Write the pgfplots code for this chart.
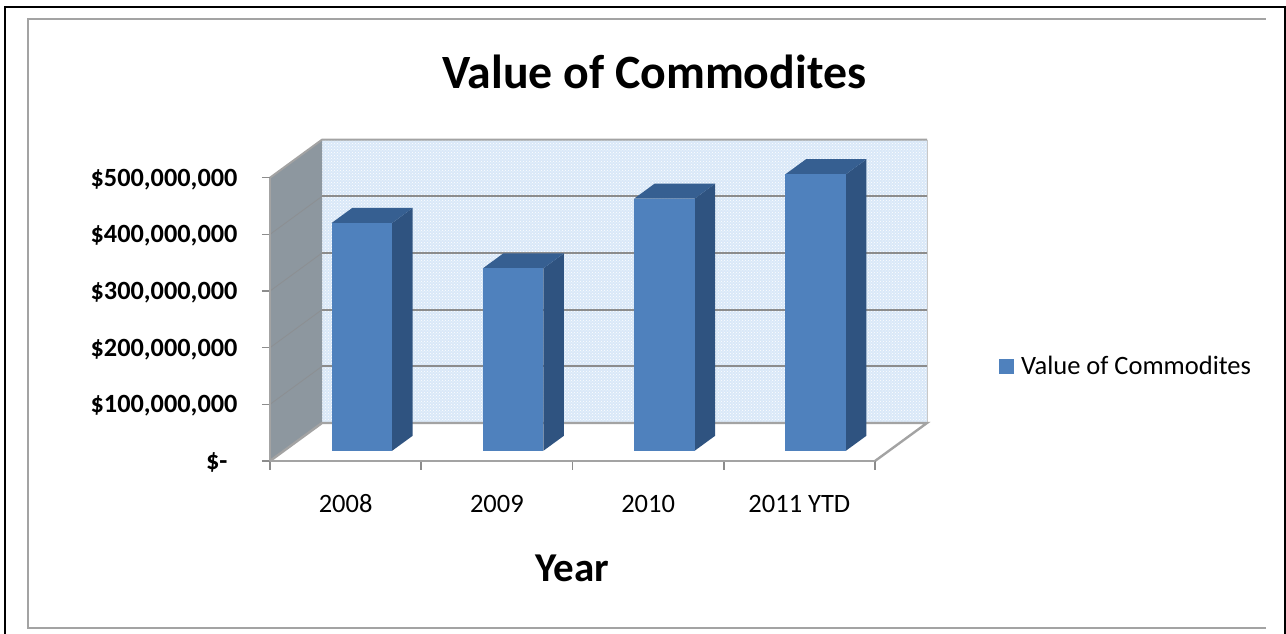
\documentclass[border=0pt]{standalone}
\usepackage{pgfplots}
\pgfplotsset{compat=1.18}
\usepackage{fontspec}
\setmainfont{Carlito}
\usetikzlibrary{patterns}
\definecolor{barfront}{HTML}{4F81BD}
\definecolor{barside}{HTML}{2F5380}
\definecolor{bartop}{HTML}{365F91}
\definecolor{wallback}{HTML}{D9E8F8}
\definecolor{wallleft}{HTML}{8D979F}
\definecolor{gridc}{HTML}{8C8C8C}
\definecolor{edgec}{HTML}{A3A3A3}
\begin{document}
\begin{tikzpicture}
\path[use as bounding box] (0pt,0pt) rectangle (1286pt,634pt);
\draw[black,line width=2pt] (5pt,0pt) -- (5pt,627pt) -- (1285pt,627pt) -- (1285pt,0pt);
\draw[edgec,line width=2pt] (1266pt,6pt) -- (28pt,6pt) -- (28pt,614.5pt) -- (1266pt,614.5pt);

% oblique box: x = category, y = depth, z = value in millions
\begin{axis}[
  at={(270pt,173pt)}, anchor=origin,
  x={(151.25pt,0pt)}, y={(52pt,38pt)}, z={(0pt,0.5666pt)},
  xmin=0, xmax=4, ymin=0, ymax=1, zmin=0, zmax=500,
  hide axis, clip=false,
]
\addplot3[fill=wallback,draw=none] coordinates {(0,1,0) (4,1,0) (4,1,500) (0,1,500)} --cycle;
\addplot3[pattern=crosshatch dots,pattern color=white,draw=none] coordinates {(0,1,0) (4,1,0) (4,1,500) (0,1,500)} --cycle;
\addplot3[fill=wallleft,draw=none] coordinates {(0,0,0) (0,1,0) (0,1,500) (0,0,500)} --cycle;
\pgfplotsinvokeforeach{100,200,300,400}{
  \addplot3[gridc,line width=2pt] coordinates {(0,1,#1) (4,1,#1)};
  \addplot3[gridc!70!wallleft,line width=0.8pt] coordinates {(0,0,#1) (0,1,#1)};
}
\addplot3[edgec,line width=2pt] coordinates {(0,0,500) (0,1,500) (4,1,500)};
\addplot3[edgec!60,line width=0.8pt] coordinates {(4,1,500) (4,1,0)};
\addplot3[edgec,line width=2.4pt] coordinates {(0,0,0) (0,1,0) (4,1,0) (4,0,0)};

% 2008
\addplot3[fill=barside,draw=none] coordinates {(0.715,0.27,0) (0.715,0.665,0) (0.715,0.665,402) (0.715,0.27,402)} --cycle;
\addplot3[fill=bartop,draw=none] coordinates {(0.315,0.27,402) (0.715,0.27,402) (0.715,0.665,402) (0.315,0.665,402)} --cycle;
\addplot3[fill=barfront,draw=none] coordinates {(0.315,0.27,0) (0.715,0.27,0) (0.715,0.27,402) (0.315,0.27,402)} --cycle;
% 2009
\addplot3[fill=barside,draw=none] coordinates {(1.715,0.27,0) (1.715,0.665,0) (1.715,0.665,322) (1.715,0.27,322)} --cycle;
\addplot3[fill=bartop,draw=none] coordinates {(1.315,0.27,322) (1.715,0.27,322) (1.715,0.665,322) (1.315,0.665,322)} --cycle;
\addplot3[fill=barfront,draw=none] coordinates {(1.315,0.27,0) (1.715,0.27,0) (1.715,0.27,322) (1.315,0.27,322)} --cycle;
% 2010
\addplot3[fill=barside,draw=none] coordinates {(2.715,0.27,0) (2.715,0.665,0) (2.715,0.665,445) (2.715,0.27,445)} --cycle;
\addplot3[fill=bartop,draw=none] coordinates {(2.315,0.27,445) (2.715,0.27,445) (2.715,0.665,445) (2.315,0.665,445)} --cycle;
\addplot3[fill=barfront,draw=none] coordinates {(2.315,0.27,0) (2.715,0.27,0) (2.715,0.27,445) (2.315,0.27,445)} --cycle;
% 2011 YTD
\addplot3[fill=barside,draw=none] coordinates {(3.715,0.27,0) (3.715,0.665,0) (3.715,0.665,488) (3.715,0.27,488)} --cycle;
\addplot3[fill=bartop,draw=none] coordinates {(3.315,0.27,488) (3.715,0.27,488) (3.715,0.665,488) (3.315,0.665,488)} --cycle;
\addplot3[fill=barfront,draw=none] coordinates {(3.315,0.27,0) (3.715,0.27,0) (3.715,0.27,488) (3.315,0.27,488)} --cycle;
\end{axis}

% front plane: ticks, labels, titles, legend
\begin{axis}[
  at={(270pt,173pt)}, anchor=south west,
  scale only axis, width=605pt, height=283.3pt,
  xmin=0, xmax=4, ymin=0, ymax=500,
  axis x line=bottom, axis y line=left,
  axis line style={-,edgec,line width=2.6pt},
  xtick={0.5,1.5,2.5,3.5},
  xticklabels={2008,2009,2010,2011 YTD},
  minor xtick={0,1,2,3,4},
  ytick={0,100,200,300,400,500},
  yticklabels={\$-\hspace*{10pt},{\$100,000,000},{\$200,000,000},{\$300,000,000},{\$400,000,000},{\$500,000,000}},
  major x tick style={draw=none},
  minor x tick style={gridc,line width=1.6pt},
  y tick style={gridc,line width=1.6pt},
  tick align=outside,
  minor tick length=9pt, major tick length=8pt,
  xticklabel style={font=\fontsize{26.5}{31}\selectfont, anchor=base, yshift=-44pt},
  yticklabel style={font=\bfseries\fontsize{26.3}{31}\selectfont, xshift=-21pt, yshift=-1.5pt},
  title={Value of Commodites},
  title style={at={(axis description cs:0.635,1.352)},anchor=center,font=\bfseries\fontsize{47.8}{57}\selectfont},
  xlabel={Year},
  xlabel style={at={(axis description cs:0.5,-0.378)},anchor=center,font=\bfseries\fontsize{41}{49}\selectfont},
  legend style={at={(axis description cs:1.205,0.334)},anchor=west,draw=none,fill=none,
    font=\fontsize{26.5}{31}\selectfont,inner sep=0pt,outer sep=0pt},
  legend image code/.code={\path[draw=none,fill=none] (0pt,0pt) -- (20pt,0pt); \fill[barfront,draw=none] (0pt,-7.5pt) rectangle (15pt,7.5pt);},
  clip=false,
]
\addlegendimage{barfront}
\addlegendentry{Value of Commodites}
\end{axis}
\end{tikzpicture}
\end{document}
